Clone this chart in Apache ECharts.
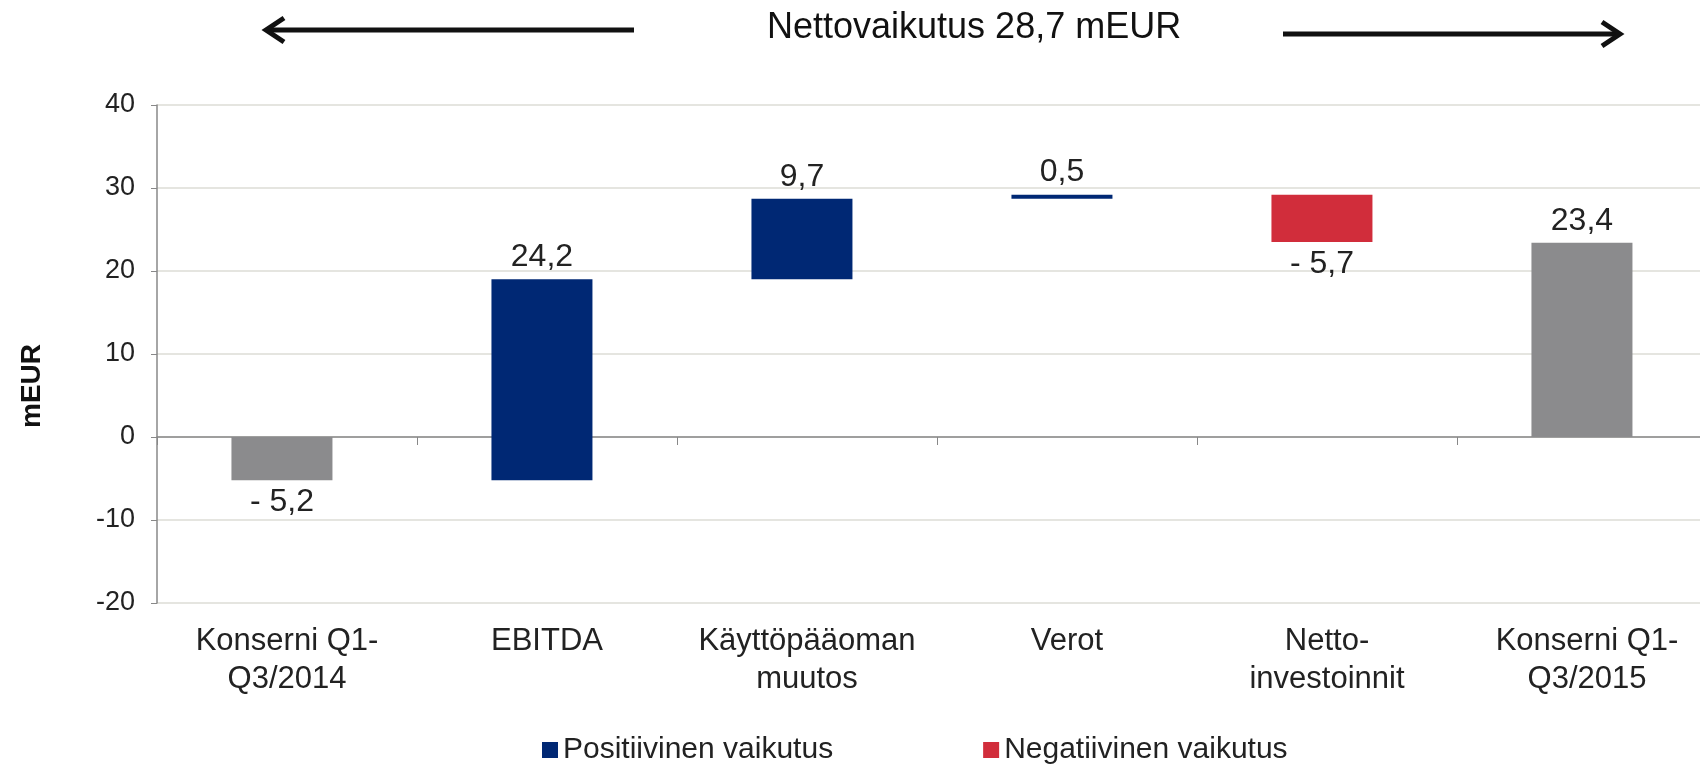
<!DOCTYPE html>
<html>
<head>
    <meta charset="utf-8">
    <title>Nettovaikutus</title>
    <script src="https://cdn.jsdelivr.net/npm/echarts@6/dist/echarts.min.js"></script>
    <style>
        html, body { margin: 0; padding: 0; background: #fff; }
        #chart { width: 1700px; height: 769px; }
    </style>
</head>
<body>
<div id="chart"></div>
<script>
    // luvut luettu kuvasta (mEUR)
    var categories = ['Konserni Q1-\nQ3/2014', 'EBITDA', 'Käyttöpääoman\nmuutos', 'Verot', 'Netto-\ninvestoinnit', 'Konserni Q1-\nQ3/2015'];
    var changes = [-5.2, 24.2, 9.7, 0.5, -5.7, 23.4];
    var kinds = ['total', 'pos', 'pos', 'pos', 'neg', 'total'];
    var yTicks = [-20, -10, 0, 10, 20, 30, 40];
    var headline = 'Nettovaikutus 28,7 mEUR';

    var colors = { total: '#8B8B8D', pos: '#002874', neg: '#D12D3B' };
    var font = "'Liberation Sans', Arial, sans-serif";
    var narrow = "'Liberation Sans Narrow', 'Arial Narrow', 'Liberation Sans', sans-serif";

    // pylväiden alkukohdat juoksevasta summasta
    var starts = [];
    var run = 0;
    for (var i = 0; i < changes.length; i++) {
        if (kinds[i] == 'total') {
            starts.push(0);
            run = changes[i];
        } else {
            starts.push(Math.round(run * 10) / 10);
            run += changes[i];
        }
    }

    function fmt(v) {
        var s = Math.abs(v).toFixed(1).replace('.', ',');
        return v < 0 ? '- ' + s : s;
    }

    var mainData = changes.map(function (v, i) {
        return {
            value: v,
            itemStyle: { color: colors[kinds[i]] },
            label: { position: v < 0 ? 'bottom' : 'top' }
        };
    });

    var chart = echarts.init(document.getElementById('chart'));
    var option = {
        animation: false,
        textStyle: { fontFamily: font },
        title: {
            text: headline,
            left: 762,
            top: 5,
            textStyle: { fontSize: 36, fontWeight: 'normal', color: '#111', fontFamily: font }
        },
        graphic: [
            { type: 'line', shape: { x1: 266, y1: 30, x2: 634, y2: 30 }, style: { stroke: '#111', lineWidth: 5 } },
            { type: 'polyline', shape: { points: [[284, 18], [266, 30], [284, 42]] }, style: { stroke: '#111', lineWidth: 5, fill: null } },
            { type: 'line', shape: { x1: 1283, y1: 34, x2: 1620, y2: 34 }, style: { stroke: '#111', lineWidth: 5 } },
            { type: 'polyline', shape: { points: [[1602, 22], [1620, 34], [1602, 46]] }, style: { stroke: '#111', lineWidth: 5, fill: null } },
            {
                type: 'text', x: 32, y: 386, rotation: Math.PI / 2,
                style: { text: 'mEUR', font: "bold 28px 'Liberation Sans', Arial, sans-serif", fill: '#111', align: 'center', verticalAlign: 'middle' }
            }
        ],
        legend: {
            data: ['Positiivinen vaikutus', 'Negatiivinen vaikutus'],
            left: 537,
            top: 730,
            icon: 'rect',
            itemWidth: 16,
            itemHeight: 16,
            itemGap: 150,
            textStyle: { fontSize: 30, color: '#222', fontFamily: font }
        },
        grid: {
            left: 157,
            top: 105,
            width: 1560,
            bottom: 166,
            outerBoundsMode: 'none'
        },
        xAxis: [{
            type: 'category',
            data: categories,
            position: 'bottom',
            axisLine: { show: false, onZero: false },
            axisTick: { show: false },
            axisLabel: { fontSize: 31, color: '#222', lineHeight: 38, margin: 19, interval: 0 }
        }, {
            type: 'category',
            data: categories,
            position: 'bottom',
            axisLine: { show: true, onZero: true, lineStyle: { color: '#888', width: 1.5 } },
            axisTick: { show: true, length: 8, lineStyle: { color: '#888' } },
            axisLabel: { show: false }
        }],
        yAxis: {
            type: 'value',
            min: -20,
            max: 40,
            interval: 10,
            axisLine: { show: true, lineStyle: { color: '#888', width: 1.5 } },
            axisTick: { show: true, length: 6, lineStyle: { color: '#888' } },
            axisLabel: {
                fontSize: 27, color: '#222', margin: 22, fontFamily: narrow,
                formatter: function (v) { return yTicks.indexOf(v) >= 0 ? String(v) : ''; }
            },
            splitLine: { lineStyle: { color: '#DCDCD6', width: 1.5 } }
        },
        series: [{
            name: 'pohja',
            type: 'bar',
            stack: 'w',
            stackStrategy: 'all',
            barWidth: 101,
            itemStyle: { color: 'transparent' },
            emphasis: { disabled: true },
            data: starts
        }, {
            name: 'muutos',
            type: 'bar',
            stack: 'w',
            stackStrategy: 'all',
            barWidth: 101,
            label: {
                show: true,
                fontSize: 32,
                color: '#222',
                distance: 6,
                formatter: function (p) { return fmt(p.value); }
            },
            data: mainData
        }, {
            name: 'Positiivinen vaikutus',
            type: 'bar',
            itemStyle: { color: colors.pos },
            data: []
        }, {
            name: 'Negatiivinen vaikutus',
            type: 'bar',
            itemStyle: { color: colors.neg },
            data: []
        }]
    };
    chart.setOption(option);
</script>
</body>
</html>
